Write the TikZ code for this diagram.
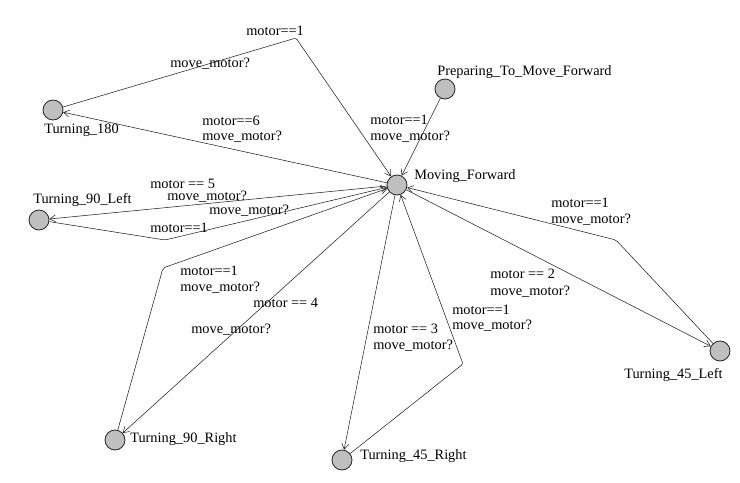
\documentclass[tikz,border=0pt]{standalone}
\usepackage{fontspec}
\setmainfont{Liberation Serif}
\usetikzlibrary{arrows.meta}

\begin{document}
\begin{tikzpicture}[x=0.025cm,y=-0.025cm,
  loc/.style={circle,draw=black!85,fill=black!25,line width=0.6pt,minimum size=0.5cm,inner sep=0},
  edge/.style={draw=black!85,line width=0.4pt,rounded corners=1.5pt,-{Straight Barb[length=4pt,width=5pt]}},
  lbl/.style={anchor=west,inner sep=0,font=\fontsize{10.2}{12}\selectfont}]
\useasboundingbox (0,0) rectangle (740,482);
% locations
\node[loc] (mf) at (397,185) {};
\node[loc] (prep) at (445,89) {};
\node[loc] (t180) at (53,110) {};
\node[loc] (t90l) at (39,220) {};
\node[loc] (t90r) at (115,440) {};
\node[loc] (t45r) at (342,460) {};
\node[loc] (t45l) at (720,351) {};
\node[lbl] (nmf) at (414,176) {Moving\_Forward};
\node[lbl] (nprep) at (437,72) {Preparing\_To\_Move\_Forward};
\node[lbl] (nt180) at (44,130) {Turning\_180};
\node[lbl] (nt90l) at (33,200) {Turning\_90\_Left};
\node[lbl] (nt90r) at (130,439) {Turning\_90\_Right};
\node[lbl] (nt45r) at (360,456) {Turning\_45\_Right};
\node[lbl] (nt45l) at (624,375) {Turning\_45\_Left};
% bend points
\coordinate (b180) at (296,38);
\coordinate (b90l) at (165,240);
\coordinate (b90r) at (163,268);
\coordinate (b45r) at (463,364);
\coordinate (b45l) at (616,240);
% edges
\draw[edge] (prep) -- (mf);
\draw[edge] (t180) -- (b180) -- (mf);
\draw[edge] (mf) -- (t180);
\draw[edge] (mf) -- (t90l);
\draw[edge] (t90l) -- (b90l) -- (mf);
\draw[edge] (t90r) -- (b90r) -- (mf);
\draw[edge] (mf) -- (t90r);
\draw[edge] (mf) -- (t45r);
\draw[edge] (t45r) -- (b45r) -- (mf);
\draw[edge] (mf) -- (t45l);
\draw[edge] (t45l) -- (b45l) -- (mf);
% guards and syncs
\node[lbl] (g180b) at (246,31) {motor==1};
\node[lbl] (s180b) at (170,64) {move\_motor?};
\node[lbl] (g180) at (202,121) {motor==6};
\node[lbl] (s180) at (202,137) {move\_motor?};
\node[lbl] (g90l) at (150,184) {motor == 5};
\node[lbl] (s90l) at (167,197) {move\_motor?};
\node[lbl] (s90lb) at (209,211) {move\_motor?};
\node[lbl] (g90lb) at (150,228) {motor==1};
\node[lbl] (g90rb) at (180,271) {motor==1};
\node[lbl] (s90rb) at (180,288) {move\_motor?};
\node[lbl] (g90r) at (253,303) {motor == 4};
\node[lbl] (s90r) at (191,330) {move\_motor?};
\node[lbl] (g45r) at (373,329) {motor == 3};
\node[lbl] (s45r) at (373,346) {move\_motor?};
\node[lbl] (g45rb) at (452,310) {motor==1};
\node[lbl] (s45rb) at (452,326) {move\_motor?};
\node[lbl] (g45l) at (490,274) {motor == 2};
\node[lbl] (s45l) at (490,292) {move\_motor?};
\node[lbl] (g45lb) at (551,203) {motor==1};
\node[lbl] (s45lb) at (551,220) {move\_motor?};
\node[lbl] (gprep) at (370,120) {motor==1};
\node[lbl] (sprep) at (370,137) {move\_motor?};
\end{tikzpicture}
\end{document}
